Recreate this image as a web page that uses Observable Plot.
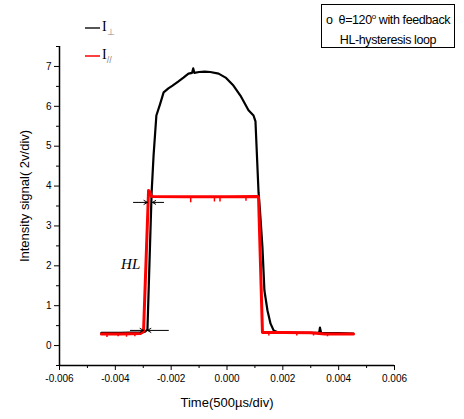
<!DOCTYPE html>
<html>
<head>
<meta charset="utf-8">
<script src="https://cdn.jsdelivr.net/npm/d3@7"></script>
<script src="https://cdn.jsdelivr.net/npm/@observablehq/plot@0.6"></script>
<style>
  body { margin: 0; background: #fff; }
  #wrap { position: relative; width: 464px; height: 419px; font-family: "Liberation Sans", Arial, sans-serif; }
  .legline { position: absolute; height: 0; width: 15px; }
  .legtxt { position: absolute; font-family: "Liberation Serif", serif; font-size: 14px; color: #000; line-height: 1; }
  .legtxt sub { font-size: 9px; color: #888; font-family: "Liberation Sans", Arial, sans-serif; }
  #box { position: absolute; left: 321px; top: 4px; width: 134px; height: 44px; border: 1px solid #000; box-sizing: border-box;
         font-size: 12.5px; line-height: 20px; text-align: center; padding-top: 2px; color: #000; white-space: nowrap; letter-spacing: -0.4px; }
  #box sup { font-size: 8px; }
</style>
</head>
<body>
<div id="wrap"></div>
<script>
// ---- data ----
const perpTime = [-0.0045, -0.0038, -0.0031, -0.00295, -0.00285, -0.0027, -0.00263, -0.00253, -0.0024, -0.00227, -0.0021, -0.00195, -0.00175, -0.00156, -0.00138, -0.00125, -0.00121, -0.00117, -0.001, -0.0008, -0.0006, -0.0003, -0.00005, 0.00023, 0.00048, 0.00077, 0.00095, 0.00102, 0.00113, 0.00118, 0.00127, 0.00134, 0.00145, 0.00156, 0.00167, 0.00184, 0.0025, 0.0033, 0.00333, 0.00337, 0.0040, 0.00453];
const perpValue = [0.32, 0.32, 0.33, 0.34, 0.40, 3.84, 4.77, 5.77, 6.05, 6.35, 6.45, 6.52, 6.62, 6.72, 6.82, 6.84, 6.95, 6.84, 6.86, 6.87, 6.86, 6.82, 6.72, 6.52, 6.27, 5.90, 5.77, 5.62, 3.84, 3.40, 2.46, 1.38, 0.88, 0.55, 0.38, 0.33, 0.32, 0.32, 0.45, 0.32, 0.31, 0.30];
const parTime = [-0.0045, -0.0038, -0.0031, -0.00299, -0.00281, -0.00276, -0.0027, -0.0015, 0.0, 0.0011, 0.00113, 0.00127, 0.0020, 0.0030, 0.0035, 0.00453];
const parValue = [0.29, 0.29, 0.30, 0.35, 3.89, 3.85, 3.74, 3.73, 3.73, 3.74, 3.72, 0.33, 0.33, 0.32, 0.29, 0.29];
// small downward noise spikes on the red trace
const spikeTime = [-0.0043, -0.0039, -0.0036, -0.0033, -0.0013, -0.00045, -0.00025, 0.00068, 0.0015, 0.0025, 0.0031, 0.0036];
const spikeTop = [0.29, 0.29, 0.30, 0.30, 3.72, 3.72, 3.72, 3.72, 0.33, 0.33, 0.32, 0.29];
const spikeBottom = [0.20, 0.22, 0.21, 0.22, 3.58, 3.60, 3.60, 3.62, 0.24, 0.24, 0.24, 0.22];
// HL annotation arrows
const arrowX1 = [-0.00335, -0.00227, -0.00346, -0.0021];
const arrowX2 = [-0.00285, -0.00267, -0.00299, -0.00285];
const arrowY = [3.59, 3.59, 0.38, 0.38];
const hlLabel = ["HL"]; const hlX = [-0.00345]; const hlY = [2.05];
// axes
const xDomain = [-0.006, 0.006];
const yDomain = [-0.5, 7.5];
const xTicks = [-0.006, -0.004, -0.002, 0.0, 0.002, 0.004, 0.006];
const xMinor = [-0.005, -0.003, -0.001, 0.001, 0.003, 0.005];
const yTicks = [0, 1, 2, 3, 4, 5, 6, 7];
const yMinor = [-0.5, 0.5, 1.5, 2.5, 3.5, 4.5, 5.5, 6.5, 7.5];
const xTitle = "Time(500\u00b5s/div)";
const yTitle = "Intensity signal( 2v/div)";

const perp = perpTime.map((t, i) => ({t, v: perpValue[i]}));
const par = parTime.map((t, i) => ({t, v: parValue[i]}));
const spikes = spikeTime.map((t, i) => ({t, a: spikeTop[i], b: spikeBottom[i]}));
const arrows = arrowX1.map((x1, i) => ({x1, x2: arrowX2[i], y: arrowY[i]}));

const chart = Plot.plot({
  width: 464, height: 419,
  marginLeft: 59, marginRight: 70, marginTop: 46, marginBottom: 54,
  style: {fontFamily: "Liberation Sans, Arial, sans-serif", fontSize: "10px", background: "#fff", color: "#000"},
  x: {domain: xDomain, label: null},
  y: {domain: yDomain, label: null},
  marks: [
    Plot.axisX({ticks: xTicks, tickSize: 5, tickPadding: 4, tickFormat: d => d.toFixed(3), label: null, fontSize: 10}),
    Plot.axisX({ticks: xMinor, tickSize: 3, tickFormat: () => "", label: null}),
    Plot.axisY({ticks: yTicks, tickSize: 5, tickPadding: 3, tickFormat: d => String(d), label: null, fontSize: 10}),
    Plot.axisY({ticks: yMinor, tickSize: 3, tickFormat: () => "", label: null}),
    Plot.ruleX([xDomain[0]], {stroke: "#000", strokeWidth: 1.5}),
    Plot.ruleY([yDomain[0]], {stroke: "#000", strokeWidth: 1.5}),
    Plot.line(perp, {x: "t", y: "v", stroke: "#000", strokeWidth: 2.2}),
    Plot.line(par, {x: "t", y: "v", stroke: "#ff0000", strokeWidth: 3}),
    Plot.ruleX(spikes, {x: "t", y1: "a", y2: "b", stroke: "#ff0000", strokeWidth: 1.5}),
    Plot.arrow(arrows, {x1: "x1", x2: "x2", y1: "y", y2: "y", stroke: "#000", strokeWidth: 1, headLength: 6}),
    Plot.text(hlLabel, {x: hlX, y: hlY, text: d => d, fontFamily: "Liberation Serif, serif", fontStyle: "italic", fontSize: 15}),
    Plot.text([xTitle], {frameAnchor: "bottom", dy: 41, fontSize: 13}),
    Plot.text([yTitle], {frameAnchor: "left", textAnchor: "middle", dx: -35, dy: -10, rotate: -90, fontSize: 13})
  ]
});

const wrap = document.getElementById("wrap");
wrap.appendChild(chart);

function addLegend(y, color, sub) {
  const line = document.createElement("div");
  line.className = "legline";
  line.style.left = "85px"; line.style.top = (y - 1) + "px";
  line.style.borderTop = "2px solid " + color;
  wrap.appendChild(line);
  const t = document.createElement("div");
  t.className = "legtxt";
  t.style.left = "102px"; t.style.top = (y - 8) + "px";
  t.innerHTML = "I<sub>" + sub + "</sub>";
  wrap.appendChild(t);
}
addLegend(28, "#555", "\u22a5");
addLegend(56, "#ff4040", "//");

const box = document.createElement("div");
box.id = "box";
box.innerHTML = "o&nbsp;&nbsp;\u03b8=120<sup>o</sup> with feedback<br>HL-hysteresis loop";
wrap.appendChild(box);
</script>
</body>
</html>
